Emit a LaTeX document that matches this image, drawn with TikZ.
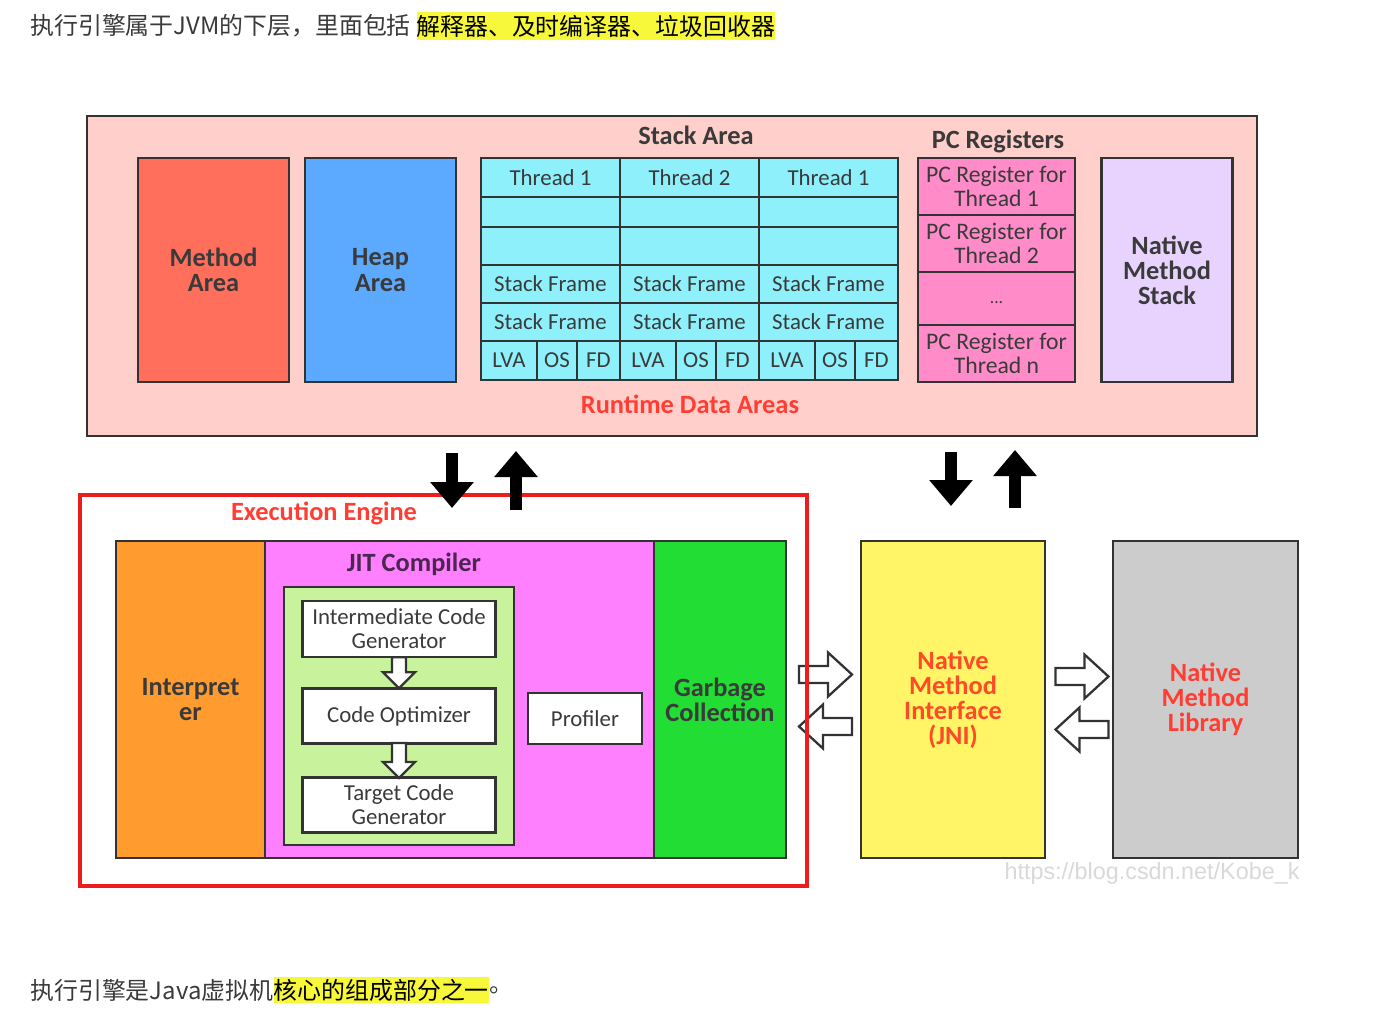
\documentclass[tikz,border=0pt]{standalone}
\usepackage{fontspec}
\setmainfont{Carlito}
\newfontfamily\cjk{Noto Sans CJK SC}
\newfontfamily\wmfont{Liberation Sans}
\usetikzlibrary{positioning, arrows.meta, calc}

\definecolor{boxline}{HTML}{333333}
\definecolor{txtgray}{HTML}{3A3A3A}
\definecolor{rdapink}{HTML}{FFD0CB}
\definecolor{methodred}{HTML}{FF6F5C}
\definecolor{heapblue}{HTML}{5CAAFF}
\definecolor{stackcyan}{HTML}{8EF0FA}
\definecolor{pcpink}{HTML}{FF8CC8}
\definecolor{nmslav}{HTML}{E8D3FF}
\definecolor{titlered}{HTML}{FF3D33}
\definecolor{jnired}{HTML}{FF4A28}
\definecolor{eered}{HTML}{EE1C1C}
\definecolor{interporange}{HTML}{FF9B2F}
\definecolor{jitmagenta}{HTML}{FF80FF}
\definecolor{jitgreen}{HTML}{C9F29D}
\definecolor{jitpurple}{HTML}{4A2650}
\definecolor{gcgreen}{HTML}{22DD33}
\definecolor{jniyellow}{HTML}{FFF566}
\definecolor{libgray}{HTML}{CCCCCC}
\definecolor{hlyellow}{HTML}{F8F83A}

\tikzset{
  sz/.style 2 args={minimum width=#1*0.02cm, minimum height=#2*0.02cm},
  box/.style={draw=boxline, line width=1.4pt, inner sep=1pt, align=center},
  bigtxt/.style={font=\bfseries\fontsize{15}{14.3}\selectfont, text=txtgray},
  smalltxt/.style={font=\fontsize{13}{13.5}\selectfont, text=txtgray},
  cell/.style={box, smalltxt, fill=stackcyan, line width=1.2pt},
  pcell/.style={box, smalltxt, font=\fontsize{13.5}{14}\selectfont, fill=pcpink, line width=1.2pt},
  area/.style={box, bigtxt},
  redtxt/.style={bigtxt, text=titlered},
  stepbox/.style={box, smalltxt, fill=white, line width=1.3pt},
  blk/.style={line width=0.24cm, -{Triangle[width=0.84cm, length=0.52cm]}},
  pics/blockarr/.style n args={4}{code={
    \draw[draw=boxline, fill=white, line width=1.3pt, line join=miter]
      (-#1/2,-#3/2) -- (#1/2-#4,-#3/2) -- (#1/2-#4,-#2/2) -- (#1/2,0)
      -- (#1/2-#4,#2/2) -- (#1/2-#4,#3/2) -- (-#1/2,#3/2) -- cycle;
  }},
  cjktxt/.style={font=\cjk\fontsize{13.6}{16}\selectfont, inner sep=0pt, text=txtgray},
}

\begin{document}
\begin{tikzpicture}[x=0.02cm, y=-0.02cm]
    \useasboundingbox[fill=white] (0,0) rectangle (1389,1028);

    % text above
    \node[cjktxt, anchor=west] (intro) at (30,26) {执行引擎属于JVM的下层，里面包括};
    \node[cjktxt, fill=hlyellow, text=black, minimum height=28*0.02cm, right=0.1cm of intro] (introhl) {解释器、及时编译器、垃圾回收器};

    % runtime data areas
    \node[box, line width=1.6pt, fill=rdapink, sz={1170}{320}] (rda) at (672,276) {};
    \node[area, fill=methodred, sz={151}{224}] (methodarea) at (213.5,270) {Method\\Area};
    \node[area, fill=heapblue, sz={151}{224}] (heaparea) at (380.5,270) {Heap\\Area};
    \node[bigtxt] (stacktitle) at (696,135) {Stack Area};
    \foreach \c/\t in {0/Thread 1, 1/Thread 2, 2/Thread 1} {
        \pgfmathsetmacro{\xc}{550.5+139*\c}
        \node[cell, sz={139}{39}] (thr\c) at (\xc,177.5) {\t};
        \node[cell, sz={139}{30}] (ea\c) at (\xc,212) {};
        \node[cell, sz={139}{38}] (eb\c) at (\xc,246) {};
        \node[cell, sz={139}{38}] (sfa\c) at (\xc,284) {Stack Frame};
        \node[cell, sz={139}{38}] (sfb\c) at (\xc,322) {Stack Frame};
        \node[cell, sz={56}{39}] (lva\c) at (\xc-41.5,360.5) {LVA};
        \node[cell, sz={40}{39}] (os\c) at (\xc+6.5,360.5) {OS};
        \node[cell, sz={43}{39}] (fd\c) at (\xc+48,360.5) {FD};
    }
    \node[bigtxt] (pctitle) at (998,141) {PC Registers};
    \node[pcell, sz={157}{57}] (pc1) at (996.5,186.5) {PC Register for\\Thread 1};
    \node[pcell, sz={157}{57}] (pc2) at (996.5,243.5) {PC Register for\\Thread 2};
    \node[pcell, sz={157}{53}, font=\fontsize{10}{10}\selectfont] (pcdots) at (996.5,298.5) {\raisebox{-1.2ex}{...}};
    \node[pcell, sz={157}{57}] (pcn) at (996.5,353.5) {PC Register for\\Thread n};
    \node[area, fill=nmslav, sz={131}{224}] (nms) at (1167,270) {Native\\Method\\Stack};
    \node[redtxt] (rdalabel) at (690,404) {Runtime Data Areas};

    % execution engine
    \node[area, fill=interporange, sz={149}{317}] (interp) at (190.5,699.5) {Interpret\\er};
    \node[box, fill=jitmagenta, sz={389}{317}] (jit) at (459.5,699.5) {};
    \node[bigtxt, text=jitpurple] (jittitle) at (414,564) {JIT Compiler};
    \node[box, fill=jitgreen, sz={230}{258}] (jitcore) at (399,716) {};
    \node[stepbox, sz={193}{56}] (icg) at (399,629) {Intermediate Code\\Generator};
    \node[stepbox, sz={193}{55}] (opt) at (399,716) {Code Optimizer};
    \node[stepbox, sz={193}{55}] (tcg) at (399,805) {Target Code\\Generator};
    \node[stepbox, sz={114}{51}] (profiler) at (585,718.5) {Profiler};
    \node[area, fill=gcgreen, sz={132}{317}] (gc) at (720,699.5) {Garbage\\Collection};
    \node[area, text=jnired, fill=jniyellow, sz={184}{317}] (jni) at (953,699.5) {Native\\Method\\Interface\\(JNI)};
    \node[area, text=titlered, fill=libgray, sz={185}{317}] (nml) at (1205.5,699.5) {Native\\Method\\Library};

    \pic[rotate=-90] (a1) at ($(icg.south)!0.5!(opt.north)$) {blockarr={31}{32}{14}{16}};
    \pic[rotate=-90] (a2) at ($(opt.south)!0.5!(tcg.north)$) {blockarr={35}{32}{14}{16}};
    \pic (a3) at ($(gc.east)!0.5!(jni.west)+(2,-25)$) {blockarr={53}{44}{17}{24}};
    \pic[rotate=180] (a4) at ($(gc.east)!0.5!(jni.west)+(2,27)$) {blockarr={53}{44}{17}{24}};
    \pic (a5) at ($(jni.east)!0.5!(nml.west)+(3,-23)$) {blockarr={53}{44}{17}{24}};
    \pic[rotate=180] (a6) at ($(jni.east)!0.5!(nml.west)+(3,30)$) {blockarr={53}{44}{17}{24}};

    \node[draw=eered, line width=2.3pt, sz={727}{391}] (ee) at (443.5,690.5) {};
    \node[redtxt] (eelabel) at (324,513) {Execution Engine};

    % arrows between the areas
    \coordinate (d1a) at (452,453);
    \coordinate (d1b) at (452,508);
    \coordinate (u1a) at (516,510);
    \coordinate (u1b) at (516,451);
    \coordinate (d2a) at (951,452);
    \coordinate (d2b) at (951,506);
    \coordinate (u2a) at (1015,508);
    \coordinate (u2b) at (1015,450);
    \draw[blk] (d1a) -- (d1b);
    \draw[blk] (u1a) -- (u1b);
    \draw[blk] (d2a) -- (d2b);
    \draw[blk] (u2a) -- (u2b);

    \node[font=\wmfont\fontsize{13.3}{14}\selectfont, text=black!15] (wm) at (1152,873) {https://blog.csdn.net/Kobe\_k};

    % text below
    \node[cjktxt, anchor=west] (outro) at (30,990) {执行引擎是Java虚拟机};
    \node[cjktxt, fill=hlyellow, text=black, minimum height=26*0.02cm, right=0pt of outro] (outrohl) {核心的组成部分之一};
    \node[cjktxt, right=0pt of outrohl] (outroend) {。};
\end{tikzpicture}
\end{document}
